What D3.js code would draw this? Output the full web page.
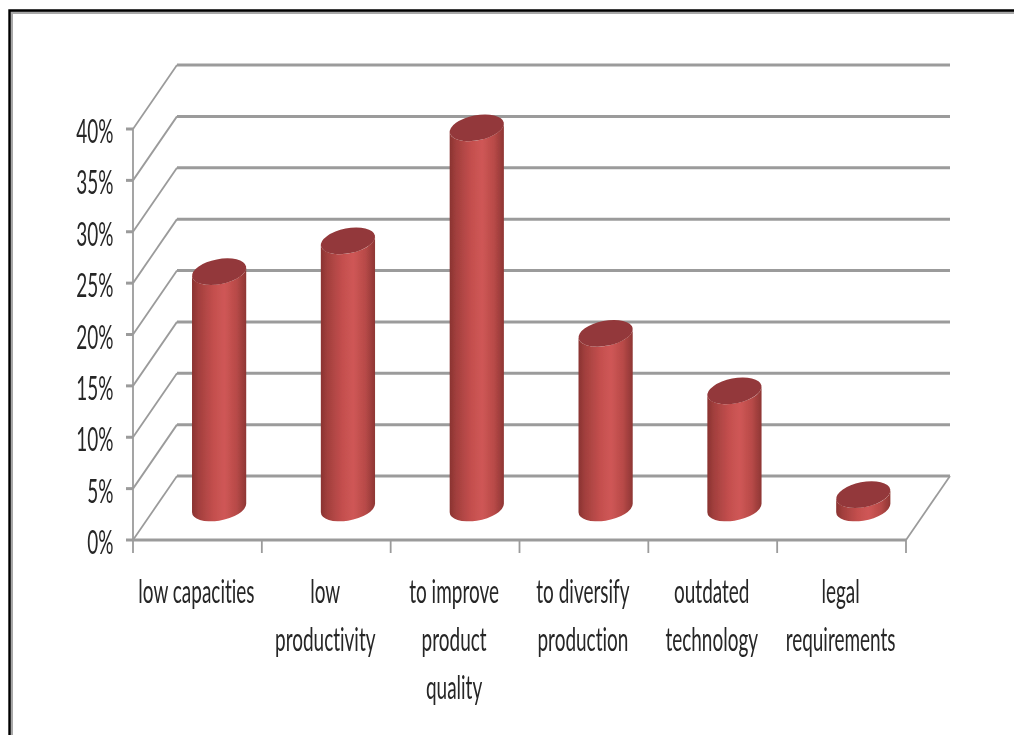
<!DOCTYPE html>
<html>
<head>
<meta charset="utf-8">
<script src="https://cdn.jsdelivr.net/npm/d3@7"></script>
<style>
html,body{margin:0;padding:0;background:#fff;overflow:hidden}
svg{display:block}
text{font-family:Lato,"Open Sans",sans-serif;fill:#262626;font-variant-ligatures:none}
</style>
</head>
<body>
<svg id="c" width="1014" height="735"></svg>
<script>
const categories = [["low capacities"],["low","productivity"],["to improve","product","quality"],["to diversify","production"],["outdated","technology"],["legal","requirements"]];
const values = [23, 26, 37, 17, 11.4, 1.3];
const yTicks = [0,5,10,15,20,25,30,35,40];

const svg = d3.select("#c");
const W=1014,H=735;
const x0=133,x1=906,yBase=540,yTop=129,dx=44,dy=-64;
const x = d3.scaleBand().domain(categories.map((d,i)=>i)).range([x0,x1]);
const y = d3.scaleLinear().domain([0,40]).range([yBase,yTop]);

const defs = svg.append("defs");
const f = defs.append("filter").attr("id","soft").attr("x","-5%").attr("y","-5%").attr("width","110%").attr("height","110%");
f.append("feGaussianBlur").attr("stdDeviation",0.7);
const g = defs.append("linearGradient").attr("id","cyl").attr("x1",0).attr("x2",1).attr("y1",0).attr("y2",0);
[[0,"#8a3331"],[0.12,"#a23f3d"],[0.4,"#c44f4e"],[0.6,"#cf5756"],[0.82,"#b84a48"],[1,"#8e3634"]]
  .forEach(s=>g.append("stop").attr("offset",s[0]).attr("stop-color",s[1]));

// frame
const frame = svg.append("g").attr("filter","url(#soft)");
frame.append("path").attr("d",`M${W+5},12.5H11.5V${H+5}`).attr("fill","none").attr("stroke","#a8a8a8").attr("stroke-width",3);
frame.append("path").attr("d",`M${W+5},10.5H9.5V${H+5}`).attr("fill","none").attr("stroke","#000").attr("stroke-width",2.4);

const root = svg.append("g").attr("filter","url(#soft)");
const grid="#9b9b9b";

// back wall gridlines and left wall diagonals
yTicks.forEach(t=>{
  root.append("line").attr("x1",x0+dx).attr("x2",x1+dx).attr("y1",y(t)+dy).attr("y2",y(t)+dy).attr("stroke",grid).attr("stroke-width",3);
  root.append("line").attr("x1",x0).attr("x2",x0+dx).attr("y1",y(t)).attr("y2",y(t)+dy).attr("stroke",grid).attr("stroke-width",1.8);
  root.append("line").attr("x1",x0-7).attr("x2",x0).attr("y1",y(t)).attr("y2",y(t)).attr("stroke",grid).attr("stroke-width",3);
});
// floor
root.append("line").attr("x1",x0).attr("x2",x0).attr("y1",yTop).attr("y2",yBase+13).attr("stroke",grid).attr("stroke-width",1.8);
root.append("line").attr("x1",x0).attr("x2",x1).attr("y1",yBase).attr("y2",yBase).attr("stroke",grid).attr("stroke-width",3);
root.append("line").attr("x1",x1).attr("x2",x1+dx).attr("y1",yBase).attr("y2",yBase+dy).attr("stroke",grid).attr("stroke-width",1.8);
categories.forEach((c,i)=>{
  const tx=x(i)+x.bandwidth();
  root.append("line").attr("x1",tx).attr("x2",tx).attr("y1",yBase).attr("y2",yBase+13).attr("stroke",grid).attr("stroke-width",1.8);
});

// cylinders
const rx=27.5,ry=12.5,deg=11,th=deg*Math.PI/180;
const c2=Math.cos(th)**2,s2=Math.sin(th)**2;
const hw=Math.sqrt(rx*rx*c2+ry*ry*s2);
const off=(rx*rx-ry*ry)*Math.sin(th)*Math.cos(th)/hw;
values.forEach((v,i)=>{
  const cx=x(i)+x.bandwidth()/2+dx/2-0.3;
  const by=y(0)+dy/2, ty=y(v)+dy/2;
  const d=`M${cx-hw},${ty+off}L${cx-hw},${by+off}A${rx},${ry} ${-deg} 0 0 ${cx+hw},${by-off}L${cx+hw},${ty-off}A${rx},${ry} ${-deg} 0 1 ${cx-hw},${ty+off}Z`;
  root.append("path").attr("d",d).attr("fill","url(#cyl)");
  root.append("ellipse").attr("cx",cx).attr("cy",ty).attr("rx",rx).attr("ry",ry)
    .attr("transform",`rotate(${-deg} ${cx} ${ty})`).attr("fill","#93393a");
});

// text
const sx=0.575, fs=33;
const labels = svg.append("g").attr("filter","url(#soft)");
yTicks.forEach(t=>{
  labels.append("text").text(t+"%")
    .attr("transform",`translate(113.5,${y(t)+14}) scale(${sx},1)`)
    .attr("text-anchor","end").attr("font-size",fs);
});
categories.forEach((c,i)=>{
  const cx=x(i)+x.bandwidth()/2-1;
  c.forEach((line,j)=>{
    labels.append("text").text(line)
      .attr("transform",`translate(${cx},${603+48*j}) scale(${sx},1)`)
      .attr("text-anchor","middle").attr("font-size",fs);
  });
});
</script>
</body>
</html>
